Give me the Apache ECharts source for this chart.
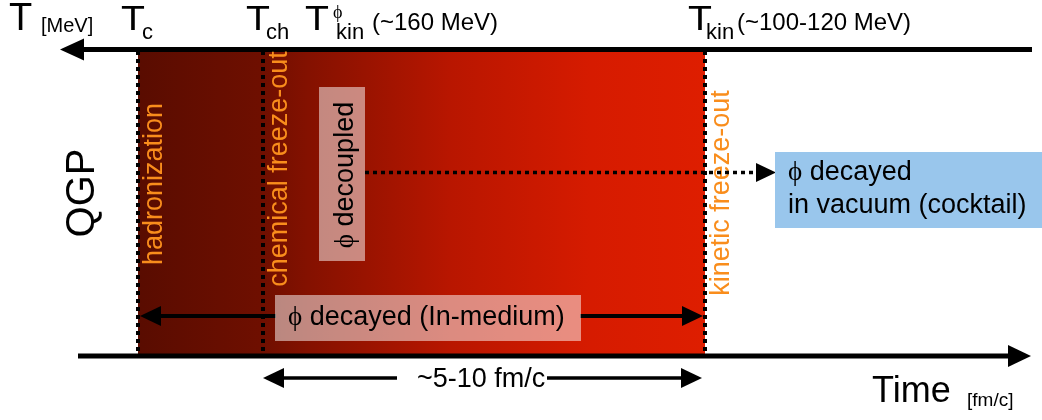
<!DOCTYPE html>
<html><head><meta charset="utf-8">
<script src="https://cdn.jsdelivr.net/npm/echarts@6/dist/echarts.min.js"></script>
<style>html,body{margin:0;padding:0;background:#fff}#c{width:1042px;height:420px}</style>
</head><body><div id="c"></div>
<script>
// ---- diagram content ----
const transitionSubs = ['c', 'ch', 'kin'];
const transitionTimes = [138, 263, 705];        // time-axis positions of Tc, Tch, Tkin
const transitionTemps = ['', '', '(~100-120 MeV)'];
const phaseLabels = ['hadronization', 'chemical freeze-out', 'kinetic freeze-out'];
const phiKinTime = 305;                          // time-axis position of T^phi_kin label
const phiKinTemp = '(~160 MeV)';
const phiDecoupledLabel = '{p|ϕ} decoupled';
const phiInMediumLabel = '{p|ϕ} decayed (In-medium)';
const phiVacuumLabels = ['{p|ϕ} decayed', 'in vacuum (cocktail)'];
const durationLabel = '~5-10 fm/c';
const axisLabels = { temp: 'T', tempUnit: '[MeV]', time: 'Time', timeUnit: '[fm/c]', phase: 'QGP' };

const FONT = "'Liberation Sans', Arial, Helvetica, sans-serif";
const SERIF = "'Liberation Serif', 'Times New Roman', serif";
const ORANGE = '#f98d1c';

function renderItem(params, api) {
  const P = (x, y) => api.coord([x, y]);
  const kids = [];
  const rect = (x0, y0, x1, y1, fill) => {
    const a = P(x0, y0), b = P(x1, y1);
    kids.push({ type: 'rect', shape: { x: a[0], y: a[1], width: b[0] - a[0], height: b[1] - a[1] }, style: { fill: fill } });
  };
  const line = (x0, y0, x1, y1, w, dash) => {
    const a = P(x0, y0), b = P(x1, y1);
    kids.push({ type: 'line', shape: { x1: a[0], y1: a[1], x2: b[0], y2: b[1] },
      style: { stroke: '#000', lineWidth: w, lineDash: dash || null, lineCap: 'butt' } });
  };
  const head = (tx, ty, dir, len, half) => {
    kids.push({ type: 'polygon', shape: { points: [P(tx, ty), P(tx - dir * len, ty - half), P(tx - dir * len, ty + half)] },
      style: { fill: '#000' } });
  };
  const rich = (size) => ({ p: { fontFamily: SERIF, fontSize: size, fill: '#000' } });
  const text = (s, x, baseY, size, opt) => {
    opt = opt || {};
    const p = P(x, baseY);
    kids.push({ type: 'text', x: p[0], y: p[1] - 0.35 * size, scaleX: opt.sx || 1,
      style: { text: s, fontSize: size, fontFamily: opt.family || FONT, fill: opt.fill || '#000',
        align: 'left', verticalAlign: 'middle', rich: opt.rich } });
  };
  const vtext = (s, baseX, cy, size, fill, r) => {
    const p = P(baseX, cy);
    kids.push({ type: 'text', x: p[0] - 0.35 * size, y: p[1], rotation: Math.PI / 2,
      style: { text: s, fontSize: size, fontFamily: FONT, fill: fill, align: 'center', verticalAlign: 'middle', rich: r } });
  };

  const [t0, t1, t2] = transitionTimes;
  const top = 51, bottom = 355;

  // hot-medium band with gradient
  const a = P(t0, top), b = P(t2, bottom);
  kids.push({ type: 'rect', shape: { x: a[0], y: a[1], width: b[0] - a[0], height: b[1] - a[1] },
    style: { fill: new echarts.graphic.LinearGradient(0, 0, 1, 0, [
      { offset: 0, color: '#590c00' }, { offset: 0.22, color: '#6f0f00' }, { offset: 0.3, color: '#841100' },
      { offset: 0.55, color: '#b81600' }, { offset: 0.8, color: '#d61b00' }, { offset: 1, color: '#de1e00' }]) } });

  // axes
  line(80, 49.5, 1032, 49.5, 5);
  head(60, 49.5, -1, 24, 11);
  line(78, 356, 1010, 356, 5);
  head(1031, 356, 1, 23, 11);

  // transition dotted lines
  transitionTimes.forEach(t => line(t, top, t, bottom, 4, [4, 4]));

  // phase labels
  phaseLabels.forEach((s, i) => {
    const cy = [184, 169, 193][i];
    vtext(s, transitionTimes[i] + 26, cy, 27, ORANGE);
  });

  // temperature labels
  const subOff = [4, 3, 1];
  transitionTimes.forEach((t, i) => {
    text('T', t - 17, 33, 35, { sx: 1.12 });
    text(transitionSubs[i], t + subOff[i], 41, 22);
    if (transitionTemps[i]) text(transitionTemps[i], t + 32, 32, 24);
  });
  text('T', phiKinTime, 33, 35, { sx: 1.12 });
  text('ϕ', phiKinTime + 28, 20, 18, { family: SERIF });
  text('kin', phiKinTime + 31, 41, 22);
  text(phiKinTemp, phiKinTime + 67, 32, 24);

  // phi decoupled box + dotted path to vacuum
  rect(319, 87, 365, 261, 'rgba(255,255,255,0.5)');
  vtext(phiDecoupledLabel, 355, 175, 27, '#000', rich(27));
  line(365, 172.5, 757, 172.5, 3.5, [4, 4]);
  head(776, 172.5, 1, 20, 9.5);

  // vacuum box
  rect(775, 152, 1042, 228, '#99c6ec');
  text(phiVacuumLabels[0], 788, 182, 27, { rich: rich(27) });
  text(phiVacuumLabels[1], 788, 215, 27);

  // in-medium arrow
  line(158, 316, 276, 316, 4);
  line(580, 316, 686, 316, 4);
  head(t0 + 2, 316, -1, 21, 10);
  head(t2 - 2, 316, 1, 21, 10);
  rect(275, 295, 581, 341, 'rgba(255,255,255,0.5)');
  text(phiInMediumLabel, 288, 327, 27, { rich: rich(27) });

  // duration arrow
  line(281, 378, 397, 378, 3.5);
  line(547, 378, 684, 378, 3.5);
  head(t1, 378, -1, 21, 10);
  head(t2 - 3, 378, 1, 21, 10);
  text(durationLabel, 417, 389, 27);

  // axis titles
  text(axisLabels.temp, 9, 33, 38);
  text(axisLabels.tempUnit, 41, 33, 20);
  text(axisLabels.time, 872, 405, 36);
  text(axisLabels.timeUnit, 967, 407, 19);
  vtext(axisLabels.phase, 97, 193, 40, '#000');

  return { type: 'group', children: kids };
}

const chart = echarts.init(document.getElementById('c'), null, { renderer: 'canvas' });
chart.setOption({
  animation: false,
  backgroundColor: '#ffffff',
  grid: { left: 0, right: 0, top: 0, bottom: 0 },
  xAxis: { type: 'value', min: 0, max: 1042, show: false },
  yAxis: { type: 'value', min: 0, max: 420, inverse: true, show: false },
  series: [{ type: 'custom', coordinateSystem: 'cartesian2d', clip: false, renderItem: renderItem, data: [[0, 0]] }]
});
</script>
</body></html>
